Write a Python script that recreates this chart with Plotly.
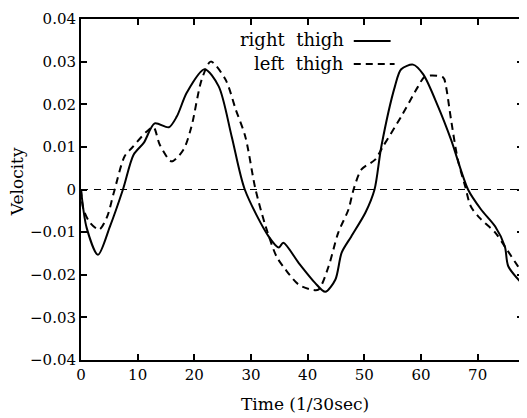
import plotly.graph_objects as go

# right thigh (solid)
right_t = [0, 1.0, 3.0, 5.1, 7.4, 9.3, 11.1, 13.0, 15.5, 16.9, 18.7, 21.8, 24.3, 26.6, 28.9,
           33.1, 34.9, 35.7, 38.4, 41.3, 43.1, 44.9, 46.0, 47.7, 50.2, 51.8, 53.0, 55.4, 56.5,
           58.6, 60.4, 63.0, 65.3, 68.3, 70.6, 73.1, 74.8, 75.4, 78.0]
right_v = [0.0, -0.009, -0.0153, -0.0087, 0.0, 0.0082, 0.011, 0.0155, 0.0146, 0.0171, 0.0228,
           0.0282, 0.0242, 0.0124, 0.0, -0.011, -0.0136, -0.0125, -0.0172, -0.0219, -0.024,
           -0.0211, -0.0148, -0.011, -0.0054, 0.0, 0.0101, 0.0242, 0.0282, 0.0293, 0.027,
           0.0195, 0.0117, 0.0, -0.0047, -0.0087, -0.0134, -0.018, -0.0223]

# left thigh (dashed)
left_t = [0, 0.4, 1.6, 3.2, 4.6, 5.8, 7.7, 9.0, 11.6, 12.8, 13.9, 16.0, 18.1, 19.5, 21.3,
          22.9, 25.5, 27.3, 29.0, 30.8, 32.6, 34.5, 36.1, 38.4, 40.7, 41.9, 43.7, 45.4,
          47.2, 48.1, 49.5, 51.9, 53.3, 56.5, 59.5, 60.7, 63.9, 64.4, 65.3, 66.5, 67.8,
          68.8, 70.6, 73.1, 74.8, 77.5]
left_v = [0.0, -0.0045, -0.0078, -0.0094, -0.0064, -0.0007, 0.0078, 0.0098, 0.0136, 0.0146,
          0.0105, 0.0066, 0.0094, 0.0148, 0.0258, 0.030, 0.0258, 0.0188, 0.0124, 0.0,
          -0.0087, -0.0157, -0.0188, -0.0223, -0.0235, -0.0235, -0.018, -0.0101, -0.0047,
          0.0, 0.0047, 0.007, 0.0101, 0.0171, 0.0242, 0.0265, 0.0263, 0.0242, 0.0164,
          0.007, 0.0007, -0.004, -0.007, -0.0101, -0.0134, -0.0188]

x_ticks = [0, 10, 20, 30, 40, 50, 60, 70]
y_ticks = [0.04, 0.03, 0.02, 0.01, 0, -0.01, -0.02, -0.03, -0.04]
y_labels = ["0.04", "0.03", "0.02", "0.01", "0", "\u22120.01", "\u22120.02", "\u22120.03", "\u22120.04"]

FONT = "DejaVu Serif"

fig = go.Figure()
fig.add_trace(go.Scatter(x=right_t, y=right_v, mode="lines", name="right thigh",
                         line=dict(color="black", width=2, shape="spline", smoothing=0.8)))
fig.add_trace(go.Scatter(x=left_t, y=left_v, mode="lines", name="left thigh",
                         line=dict(color="black", width=2, dash="7px,5px", shape="spline", smoothing=0.8)))

# zero reference line
fig.add_shape(type="line", xref="paper", yref="y", x0=0, x1=1, y0=0, y1=0,
              line=dict(color="black", width=1.2, dash="7px,6px"))

# page-pixel -> paper coordinates (plot area spans x 81..525, y 19..360 on the page)
def px_x(px):
    return (px - 81) / 444.0

def px_y(py):
    return (360 - py) / 341.0

fig.add_annotation(x=px_x(347), y=px_y(40), xref="paper", yref="paper", text="right  thigh",
                   showarrow=False, xanchor="right", yanchor="middle",
                   font=dict(family=FONT, size=18, color="black"))
fig.add_annotation(x=px_x(347), y=px_y(63), xref="paper", yref="paper", text="left  thigh",
                   showarrow=False, xanchor="right", yanchor="middle",
                   font=dict(family=FONT, size=18, color="black"))
fig.add_shape(type="line", xref="paper", yref="paper", x0=px_x(355), x1=px_x(392),
              y0=px_y(41), y1=px_y(41), line=dict(color="black", width=2))
fig.add_shape(type="line", xref="paper", yref="paper", x0=px_x(355), x1=px_x(396),
              y0=px_y(64), y1=px_y(64), line=dict(color="black", width=2, dash="7px,5px"))

# axis titles
fig.add_annotation(x=px_x(306), y=px_y(404), xref="paper", yref="paper", text="Time (1/30sec)",
                   showarrow=False, xanchor="center", yanchor="middle",
                   font=dict(family=FONT, size=17, color="black"))
fig.add_annotation(x=px_x(17), y=px_y(182), xref="paper", yref="paper", text="Velocity",
                   showarrow=False, xanchor="center", yanchor="middle", textangle=-90,
                   font=dict(family=FONT, size=17, color="black"))

axis_common = dict(showline=True, linecolor="black", linewidth=2, mirror="ticks",
                   ticks="inside", ticklen=6, tickwidth=1.5, tickcolor="black",
                   showgrid=False, zeroline=False,
                   tickfont=dict(family=FONT, size=15, color="black"))

fig.update_xaxes(range=[0, 78], tickvals=x_ticks, ticktext=[str(v) for v in x_ticks], **axis_common)
fig.update_yaxes(range=[-0.04, 0.04], tickvals=y_ticks, ticktext=y_labels, **axis_common)

# the page body has an 8px margin: size the figure so it fits the 527x418 window
fig.update_layout(width=519, height=410, margin=dict(l=73, r=2, t=11, b=58),
                  plot_bgcolor="white", paper_bgcolor="white", showlegend=False,
                  font=dict(family=FONT, color="black"))

fig.write_html("out.html")
